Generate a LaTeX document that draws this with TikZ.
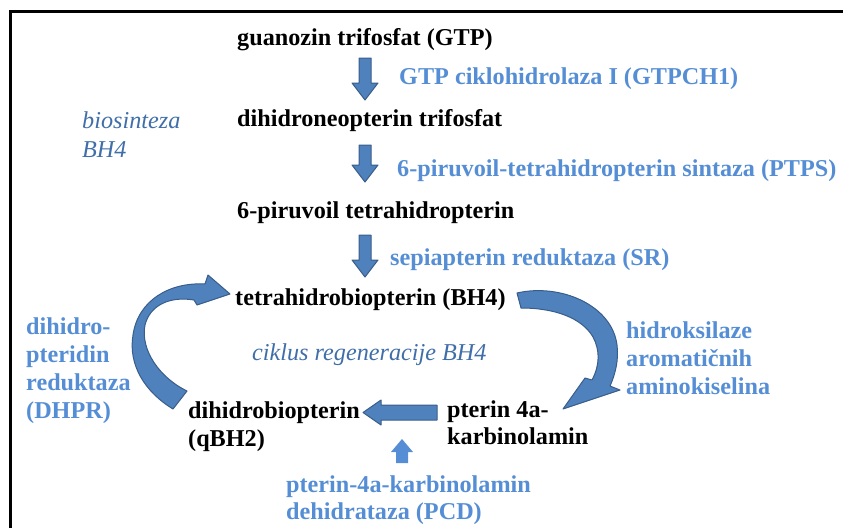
\documentclass[tikz,border=0pt]{standalone}
\usepackage{fontspec}
\setmainfont{Liberation Serif}
\usetikzlibrary{shapes}

\definecolor{arrfill}{RGB}{79,129,189}
\definecolor{arrline}{RGB}{56,93,138}
\definecolor{enzblue}{RGB}{85,142,213}
\definecolor{noteblue}{RGB}{63,110,168}

\begin{document}
\begin{tikzpicture}[x=1pt, y=-1pt,
    chem/.style={anchor=base west, inner sep=0, align=left,
      font=\bfseries\fontsize{24.2}{28}\selectfont},
    enzyme/.style={chem, text=enzblue},
    note/.style={anchor=base west, inner sep=0, align=left, text=noteblue,
      font=\itshape\fontsize{24.2}{28.5}\selectfont},
    blockarr/.style={fill=arrfill, draw=arrline, line width=1, line join=round}]
      \useasboundingbox (0,0) rectangle (843,528);
      \draw [line width=3] (10,528) -- (10,11) -- (843,11);
      %\foreach \x in {100,200,...,800} \node [font=\small] at (\x,520) {\x};
      % (multi-line nodes sit on the baseline of their last line)

      % pathway
      \node [chem] (gtp) at (237,45) {guanozin trifosfat (GTP)};
      \node [chem] (dhnp) at (237,126) {dihidroneopterin trifosfat};
      \node [chem] (ppt) at (237,218) {6-piruvoil tetrahidropterin};
      \node [chem] (bh4) at (235,305) {tetrahidrobiopterin (BH4)};
      \node [chem] (qbh2) at (188,446) {dihidrobiopterin\\(qBH2)};
      \node [chem, font=\bfseries\fontsize{24.2}{27}\selectfont] (pcam) at (447,444)
        {pterin 4a-\\karbinolamin};

      % enzymes
      \node [enzyme] (gtpch) at (399,84) {GTP ciklohidrolaza I (GTPCH1)};
      \node [enzyme] (ptps) at (397,176) {6-piruvoil-tetrahidropterin sintaza (PTPS)};
      \node [enzyme] (sr) at (390,265) {sepiapterin reduktaza (SR)};
      \node [enzyme] (dhpr) at (26,418) {dihidro-\\pteridin\\reduktaza\\(DHPR)};
      \node [enzyme] (hyd) at (626,394) {hidroksilaze\\aromatičnih\\aminokiselina};
      \node [enzyme, font=\bfseries\fontsize{24.2}{27}\selectfont] (pcd) at (286,519)
        {pterin-4a-karbinolamin\\dehidrataza (PCD)};

      \node [note] (bio) at (82,157) {biosinteza\\BH4};
      \node [note] (cyc) at (252,360) {ciklus regeneracije BH4};

      % straight arrows
      \foreach \top/\tip in {58/100, 145/182, 235/277}
        \draw [blockarr] (359,\top) -- (371,\top) -- (371,\tip-17) -- (378,\tip-17)
          -- (365,\tip) -- (352,\tip-17) -- (359,\tip-17) -- cycle;
      \draw [blockarr] (437,405) -- (381,405) -- (381,400) -- (363,412.5)
        -- (381,425) -- (381,420) -- (437,420) -- cycle;
      \draw [fill=enzblue, draw=none] (396,463) -- (396,452) -- (391,452) -- (402,439)
        -- (413,452) -- (408,452) -- (408,463) -- cycle;

      % curved arrows
      \draw [blockarr] (173,409) .. controls (145,392) and (128,365) .. (133,335)
        .. controls (138,300) and (170,282) .. (205,284) -- (208,275) -- (230,294)
        -- (197,305) -- (194,300) .. controls (170,296) and (150,305) .. (145,325)
        .. controls (140,350) and (160,378) .. (187,391) -- cycle;
      \draw [blockarr] (517,293) .. controls (560,283) and (612,305) .. (617,345)
        .. controls (619,360) and (615,375) .. (610,386) -- (620,390) -- (563,409)
        -- (585,378) -- (592,380) .. controls (600,365) and (600,350) .. (593,337)
        .. controls (582,318) and (555,308) .. (521,308) -- cycle;
\end{tikzpicture}
\end{document}
